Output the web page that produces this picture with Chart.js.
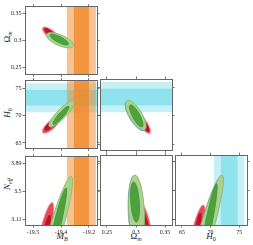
<!DOCTYPE html>
<html lang="en">
<head>
<meta charset="UTF-8">
<title>Triangle plot</title>
<style>
  html, body { margin: 0; padding: 0; background: #fff; }
  #wrap { position: relative; width: 253px; height: 245px; overflow: hidden; font-family: 'Liberation Serif', 'DejaVu Serif', serif; }
  #wrap canvas { position: absolute; }
  .lab { position: absolute; font-size: 9px; color: #222; white-space: nowrap; line-height: 1; transform: translate(-50%, -50%); }
  .lab.rot { transform: translate(-50%, -50%) rotate(-90deg); }
  .lab sub { font-size: 6px; vertical-align: -2px; }
</style>
</head>
<body>
<div id="wrap">
  <!-- axis titles -->
  <div class="lab rot" style="left:8px;top:37px">Ω<sub><i>m</i></sub></div>
  <div class="lab rot" style="left:8px;top:113px"><i>H</i><sub>0</sub></div>
  <div class="lab rot" style="left:8px;top:184px"><i>N</i><sub><i>eff</i></sub></div>
  <div class="lab" style="left:62px;top:237px"><i>M</i><sub><i>B</i></sub></div>
  <div class="lab" style="left:136px;top:237px">Ω<sub><i>m</i></sub></div>
  <div class="lab" style="left:211px;top:237px"><i>H</i><sub>0</sub></div>
</div>

<script src="https://cdn.jsdelivr.net/npm/chart.js"></script>
<script>
// axes
const mbRange = [-19.529, -19.271];
const mbTicks = [-19.5, -19.4, -19.3];
const mbTickLabels = ['-19.5', '-19.4', '-19.2'];
const omRangeX = [0.238, 0.362];
const omRangeY = [0.2376, 0.3631];
const omTicks = [0.25, 0.3, 0.35];
const omTickLabels = ['0.25', '0.3', '0.35'];
const h0RangeX = [63.8, 76.35];
const h0RangeY = [64.0, 76.4];
const h0Ticks = [65, 70, 75];
const h0TickLabels = ['65', '70', '75'];
const neffRange = [3.04, 3.98];
const neffTicks = [3.11, 3.5, 3.89];
const neffTickLabels = ['3.11', '3.5', '3.89'];

// external priors: [centre, 1 sigma, 2 sigma]
const mbPrior = [-19.327, 0.027, 0.052];
const h0Prior = [73.25, 1.45, 2.65];

// contours: [x centre, y centre, x half extent, y half extent, correlation]
// first row = outer (95%), second row = inner (68%)
const redOmMB = [[-19.433, 0.3105, 0.0335, 0.0150, -0.77], [-19.4384, 0.3136, 0.0205, 0.0090, -0.835]];
const greenOmMB = [[-19.4036, 0.3008, 0.0490, 0.0142, -0.64], [-19.4063, 0.3021, 0.0335, 0.0100, -0.79]];
const redH0MB = [[-19.4348, 68.29, 0.0320, 1.52, 0.77], [-19.4411, 68.12, 0.0165, 0.80, 0.75]];
const greenH0MB = [[-19.3982, 70.30, 0.0455, 2.40, 0.866], [-19.40, 70.03, 0.0292, 1.68, 0.912]];
const redNeffMB = [[-19.4554, 2.972, 0.0293, 0.376, 0.79], [-19.4518, 2.972, 0.0139, 0.2016, 0.77]];
const greenNeffMB = [[-19.4164, 2.999, 0.0580, 0.7124, 0.905], [-19.4161, 2.999, 0.0365, 0.551, 0.935]];
const redH0Om = [[0.3099, 68.944, 0.0152, 2.07, -0.835], [0.3155, 68.246, 0.0070, 1.01, -0.79]];
const blueH0Om = [[0.2991, 69.96, 0.0178, 2.60, -0.73], [0.3000, 69.90, 0.0118, 1.94, -0.79]];
const greenH0Om = [[0.2996, 70.079, 0.0178, 2.60, -0.725], [0.3004, 69.948, 0.0118, 1.94, -0.79]];
const redNeffOm = [[0.3147, 2.945, 0.01466, 0.4032, -0.55], [0.3164, 2.945, 0.00776, 0.2554, -0.55]];
const blueNeffOm = [[0.3002, 3.208, 0.01379, 0.4973, -0.2], [0.2979, 3.344, 0.00776, 0.2688, -0.3]];
const greenNeffOm = [[0.3009, 3.214, 0.01379, 0.4973, -0.2], [0.2983, 3.348, 0.00776, 0.2688, -0.3]];
const redNeffH0 = [[67.69, 2.945, 1.374, 0.3629, 0.74], [67.69, 2.945, 0.682, 0.2554, 0.77]];
const blueNeffH0 = [[69.20, 2.966, 2.972, 0.7392, 0.912], [69.37, 2.966, 1.72, 0.625, 0.935]];
const greenNeffH0 = [[69.27, 2.972, 2.972, 0.7392, 0.912], [69.44, 2.972, 1.72, 0.625, 0.935]];

// layout of the triangle
const colLeft = [25, 100, 175];
const rowTop = [5, 79, 155];
const panelW = 72;
const panelH = [71, 71, 70];

const xAxes = [
  {range: mbRange, ticks: mbTicks, labels: mbTickLabels},
  {range: omRangeX, ticks: omTicks, labels: omTickLabels},
  {range: h0RangeX, ticks: h0Ticks, labels: h0TickLabels}
];
const yAxes = [
  {range: omRangeY, ticks: omTicks, labels: omTickLabels},
  {range: h0RangeY, ticks: h0Ticks, labels: h0TickLabels},
  {range: neffRange, ticks: neffTicks, labels: neffTickLabels}
];

const panels = [
  {col: 0, row: 0, sets: [['red', redOmMB], ['green', greenOmMB]], vband: ['orange', mbPrior]},
  {col: 0, row: 1, sets: [['red', redH0MB], ['green', greenH0MB]], hband: ['cyan', h0Prior], vband: ['orange', mbPrior]},
  {col: 1, row: 1, sets: [['red', redH0Om], ['blue', blueH0Om], ['green', greenH0Om]], hband: ['cyan', h0Prior]},
  {col: 0, row: 2, sets: [['red', redNeffMB], ['green', greenNeffMB]], vband: ['orange', mbPrior]},
  {col: 1, row: 2, sets: [['red', redNeffOm], ['blue', blueNeffOm], ['green', greenNeffOm]]},
  {col: 2, row: 2, sets: [['red', redNeffH0], ['blue', blueNeffH0], ['green', greenNeffH0]], vband: ['cyan', h0Prior]}
];

const styles = {
  red: {fill: ['#e64a55', '#c8102b'], edge: ['#f08c93', '#b80c24']},
  green: {fill: ['#abd18f', '#4ca23c'], edge: ['#86bc68', '#3f9431']},
  blue: {fill: ['#8aa8de', '#5580cc'], edge: ['#4a70c8', '#4a70c8']}
};
const bandColors = {
  orange: ['rgba(242,135,40,0.5)', 'rgba(242,135,40,0.78)'],
  cyan: ['rgba(60,205,225,0.3)', 'rgba(60,205,225,0.39)']
};

Chart.defaults.font.family = "'Liberation Serif', 'DejaVu Serif', serif";
Chart.defaults.font.size = 6;

// ellipse through the scales: centre + (sx, rho*sy) cos t + (0, sy*sqrt(1-rho^2)) sin t
function ellipsePath(ctx, sx, sy, e) {
  const [cx, cy, hx, hy, r] = e;
  const px = sx.getPixelForValue(cx), py = sy.getPixelForValue(cy);
  const ax = sx.getPixelForValue(cx + hx) - px;
  const ay = sy.getPixelForValue(cy + r * hy) - py;
  const by = sy.getPixelForValue(cy + hy * Math.sqrt(1 - r * r)) - py;
  ctx.save();
  ctx.beginPath();
  ctx.transform(ax, ay, 0, by, px, py);
  ctx.arc(0, 0, 1, 0, 2 * Math.PI);
  ctx.restore();
}

function panelPlugin(p) {
  return {
    id: 'panel',
    beforeDraw(chart) {
      const {ctx, chartArea: a} = chart;
      const sx = chart.scales.x, sy = chart.scales.y;
      ctx.save();
      ctx.beginPath();
      ctx.rect(a.left, a.top, a.right - a.left, a.bottom - a.top);
      ctx.clip();
      if (p.hband) {
        const [c, s1, s2] = p.hband[1];
        [s2, s1].forEach((s, i) => {
          const y0 = sy.getPixelForValue(c + s), y1 = sy.getPixelForValue(c - s);
          ctx.fillStyle = bandColors[p.hband[0]][i];
          ctx.fillRect(a.left, y0, a.right - a.left, y1 - y0);
        });
      }
      if (p.vband) {
        const [c, s1, s2] = p.vband[1];
        [s2, s1].forEach((s, i) => {
          const x0 = sx.getPixelForValue(c - s), x1 = sx.getPixelForValue(c + s);
          ctx.fillStyle = bandColors[p.vband[0]][i];
          ctx.fillRect(x0, a.top, x1 - x0, a.bottom - a.top);
        });
      }
      p.sets.forEach(([name, ells]) => {
        ells.forEach((e, i) => {
          ellipsePath(ctx, sx, sy, e);
          ctx.fillStyle = styles[name].fill[i];
          ctx.strokeStyle = styles[name].edge[i];
          ctx.lineWidth = name === 'blue' ? 0.6 : 0.8;
          ctx.fill();
          ctx.stroke();
        });
      });
      ctx.restore();
    }
  };
}

function axis(def, pos, showLabels, size) {
  return {
    type: 'linear',
    axis: (pos === 'top' || pos === 'bottom') ? 'x' : 'y',
    position: pos,
    min: def.range[0],
    max: def.range[1],
    afterBuildTicks: s => { s.ticks = def.ticks.map(v => ({value: v})); },
    afterFit: s => { if (s.isHorizontal()) s.height = size; else s.width = size; },
    ticks: {
      display: showLabels,
      autoSkip: false,
      maxRotation: 0,
      padding: 1,
      color: '#222',
      callback: (v, i) => def.labels[i]
    },
    grid: { drawOnChartArea: false, tickLength: 2.5, color: '#555', lineWidth: 0.8 },
    border: { display: true, color: '#666', width: 1 }
  };
}

const wrap = document.getElementById('wrap');
panels.forEach(p => {
  const L = p.col === 0 ? 25 : 3;
  const R = 3, T = 3;
  const B = p.row === 2 ? 245 - (rowTop[2] + panelH[2]) : 3;
  const canvas = document.createElement('canvas');
  canvas.width = panelW + L + R;
  canvas.height = panelH[p.row] + T + B;
  canvas.style.left = (colLeft[p.col] - L) + 'px';
  canvas.style.top = (rowTop[p.row] - T) + 'px';
  wrap.appendChild(canvas);

  new Chart(canvas, {
    type: 'scatter',
    data: { datasets: [] },
    options: {
      responsive: false,
      animation: false,
      events: [],
      layout: { padding: 0 },
      plugins: { legend: { display: false }, tooltip: { enabled: false } },
      scales: {
        x: axis(xAxes[p.col], 'bottom', p.row === 2, B),
        x2: axis(xAxes[p.col], 'top', false, T),
        y: axis(yAxes[p.row], 'left', p.col === 0, L),
        y2: axis(yAxes[p.row], 'right', false, R)
      }
    },
    plugins: [panelPlugin(p)]
  });
});
</script>
</body>
</html>
